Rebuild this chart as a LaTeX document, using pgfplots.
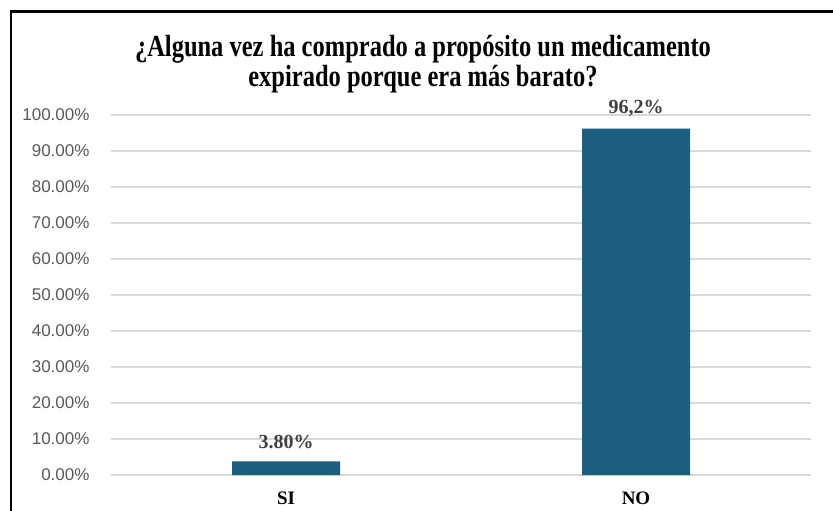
\documentclass[border=0pt]{standalone}
\usepackage{pgfplots}
\pgfplotsset{compat=1.18}
\usepackage{fontspec}
\setmainfont{Liberation Serif}
\setsansfont{Liberation Sans}
\definecolor{barblue}{HTML}{1B5E7E}
\definecolor{ticktxt}{HTML}{595959}
\definecolor{lbltxt}{HTML}{404040}
\begin{document}
\begin{tikzpicture}
\path[use as bounding box] (0,0) rectangle (833bp,-511bp);
\fill[white] (0,0) rectangle (833bp,-511bp);
\draw[line width=2.5bp,black] (11bp,-530bp) -- (11bp,-11.5bp) -- (840bp,-11.5bp);
\node[align=center,font=\fontsize{24.5bp}{21.5bp}\selectfont\bfseries,yscale=1.25,transform shape] at (423bp,-64bp)
  {¿Alguna vez ha comprado a propósito un medicamento\\expirado porque era más barato?};
\begin{axis}[
    at={(111bp,-475bp)}, anchor=south west,
    width=700bp, height=360bp, scale only axis,
    xmin=-0.5, xmax=1.5, ymin=0, ymax=100,
    axis line style={draw=none},
    ymajorgrids, major grid style={draw=black!15, line width=1.5bp},
    ytick={0,10,...,100},
    yticklabel={\pgfmathprintnumber[fixed,fixed zerofill,precision=2]{\tick}\%},
    /pgf/number format/assume math mode=true,
    yticklabel style={font=\fontsize{17bp}{20bp}\selectfont\sffamily, text=ticktxt, xshift=-18bp},
    xtick={0,1}, xticklabels={SI,NO},
    xticklabel style={font=\fontsize{19bp}{22bp}\selectfont\bfseries, yshift=-13bp},
    major tick length=0pt,
    ybar, bar width=108bp,
    point meta=explicit symbolic,
    nodes near coords,
    nodes near coords style={font=\fontsize{20bp}{23bp}\selectfont\bfseries, text=lbltxt, anchor=south, yshift=9bp},
    clip=false,
]
\addplot[fill=barblue, draw=none] coordinates {(0,3.8) [3.80\%] (1,96.2) [96,2\%]};
\end{axis}
\end{tikzpicture}
\end{document}
